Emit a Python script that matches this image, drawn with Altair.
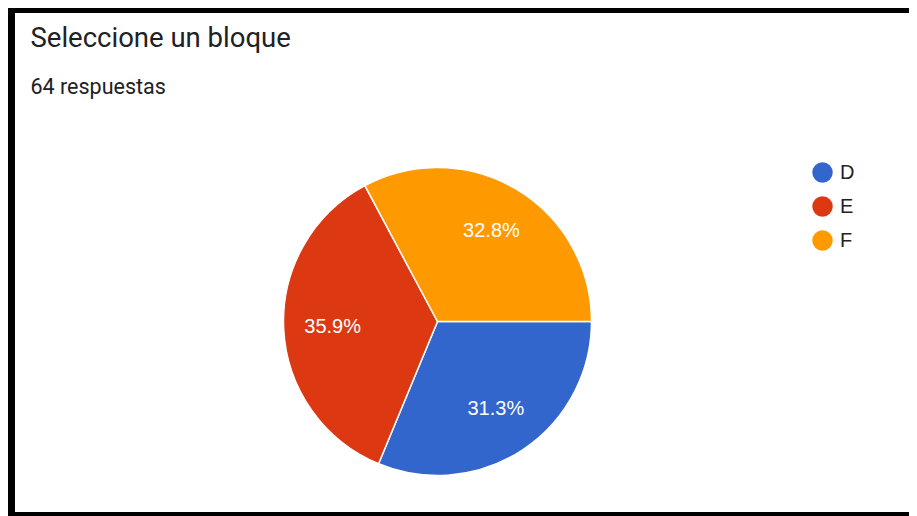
import math
import altair as alt
import pandas as pd

# ---- data ----
categories = ["D", "E", "F"]
counts = [20, 23, 21]          # 64 respuestas: 31.3%, 35.9%, 32.8%
colors = ["#3366CC", "#DC3912", "#FF9900"]
title_text = "Seleccione un bloque"
subtitle_text = "64 respuestas"

df = pd.DataFrame({"bloque": categories, "n": counts})
one = pd.DataFrame({"k": [0]})

theta = alt.Theta(
    "n:Q", stack=True,
    scale=alt.Scale(range=[math.pi / 2, math.pi / 2 + 2 * math.pi]),
)
order = alt.Order("bloque:N", sort="ascending")
color = alt.Color(
    "bloque:N",
    scale=alt.Scale(domain=categories, range=colors),
    legend=alt.Legend(
        title=None, orient="none", legendX=804, legendY=34,
        symbolType="circle", symbolSize=420, symbolStrokeWidth=0,
        symbolOpacity=1,
        labelFont="Liberation Sans", labelFontSize=20, labelColor="#222222",
        labelOffset=7, rowPadding=13, padding=0,
    ),
)

pie = alt.Chart(df).mark_arc(
    outerRadius=154, stroke="white", strokeWidth=1.5
).encode(theta=theta, color=color, order=order)

labels = alt.Chart(df).transform_joinaggregate(
    total="sum(n)"
).transform_calculate(
    pct="datum.n / datum.total"
).mark_text(
    radius=105, font="Liberation Sans", fontSize=20, fill="white"
).encode(
    theta=theta, order=order, detail="bloque:N",
    text=alt.Text("pct:Q", format=".1%"),
)

frame_left = alt.Chart(one).mark_rule(color="black", strokeWidth=8).encode(
    x=alt.value(3), y=alt.value(-123), y2=alt.value(392))
frame_top = alt.Chart(one).mark_rule(color="black", strokeWidth=8).encode(
    x=alt.value(0), x2=alt.value(905), y=alt.value(-119))
frame_bottom = alt.Chart(one).mark_rule(color="black", strokeWidth=8).encode(
    x=alt.value(0), x2=alt.value(905), y=alt.value(388))

chart = alt.layer(pie, labels, frame_left, frame_top, frame_bottom).properties(
    width=859,
    height=387,
    padding={"left": 0, "top": 120, "right": 42, "bottom": 1},
    autosize=alt.AutoSizeParams(type="none"),
    background="white",
    title=alt.Title(
        text=title_text, subtitle=subtitle_text,
        anchor="start", frame="group",
        font="Roboto", fontSize=27.5, fontWeight="normal", color="#202124",
        subtitleFont="Roboto", subtitleFontSize=21.5, subtitleColor="#202124",
        subtitlePadding=24, offset=-97, dx=22.5,
    ),
).configure_view(strokeWidth=0)

chart.save("out.html", embed_options={"renderer": "svg", "actions": False})
